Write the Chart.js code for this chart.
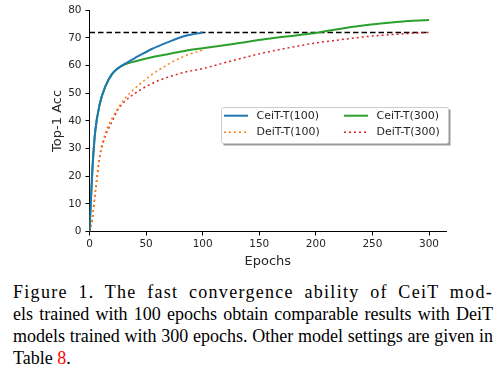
<!DOCTYPE html>
<html>
<head>
<meta charset="utf-8">
<script src="https://cdn.jsdelivr.net/npm/chart.js@4.4.1/dist/chart.umd.min.js"></script>
<style>
  body { margin: 0; background: #fff; }
  #wrap { position: relative; width: 503px; height: 373px; }
  #chart { position: absolute; left: 0; top: 0; }
  #caption {
    position: absolute; left: 13px; top: 281px; width: 480px;
    font-family: "Liberation Serif", serif; font-size: 18px; color: #000;
  }
  #caption div { height: 22px; line-height: 22px; white-space: nowrap; text-align: justify; text-align-last: justify; }
  #caption div.first { letter-spacing: 1.3px; }
  #caption div.last { text-align-last: left; }
  #caption .ref { color: #ff0000; }
</style>
</head>
<body>
<div id="wrap">
  <canvas id="chart" width="503" height="275"></canvas>
  <div id="caption">
    <div class="first">Figure 1. The fast convergence ability of CeiT mod-</div>
    <div>els trained with 100 epochs obtain comparable results with DeiT</div>
    <div>models trained with 300 epochs. Other model settings are given in</div>
    <div class="last">Table <span class="ref">8</span>.</div>
  </div>
</div>
<script>
// values
const epochs100 = [0, 1, 2.5, 5, 9, 14, 20, 25, 31, 40, 55, 70, 85, 100];
const epochs300 = [0, 1, 2.5, 5, 9, 14, 20, 25, 31, 40, 55, 70, 85, 100, 127, 156, 186, 200, 215, 245, 274, 300];

const ceit100 = [0, 9, 22, 36, 46, 52.5, 57, 59, 60.6, 62.7, 66, 68.6, 70.8, 72];
const deit100 = [0, 1.5, 4.5, 14, 27.5, 35.5, 41, 44.5, 48, 51.7, 56.7, 60.6, 63.6, 65.6];
const ceit300 = [0, 9, 22, 36, 46, 52.5, 57, 59, 60.4, 61.5, 63, 64.2, 65.4, 66.3, 67.8, 69.6, 71.1, 71.8, 72.9, 74.7, 75.9, 76.5];
const deit300 = [0, 1.5, 4.5, 13.6, 26.7, 34.5, 39.8, 44, 47, 49.9, 53.5, 55.9, 57.7, 58.9, 61.9, 64.8, 67.2, 68.2, 69, 70.5, 71.4, 72];

const refLine = [72, 72];
const refEpochs = [0, 300];

const xTicks = [0, 50, 100, 150, 200, 250, 300];
const yTicks = [0, 10, 20, 30, 40, 50, 60, 70, 80];

const toPts = (xs, ys) => xs.map((x, i) => ({ x: x, y: ys[i] }));

const dotted = [2, 3];

// legend drawn inside the plot, like the matplotlib one (2 columns)
const boxLegend = {
  id: 'boxLegend',
  afterDraw(chart) {
    const ctx = chart.ctx;
    const x0 = 221, y0 = 107, w = 227, h = 36;
    ctx.save();
    ctx.fillStyle = '#9a9a9a';
    ctx.fillRect(x0 + 2.5, y0 + 2.5, w, h);
    ctx.fillStyle = '#fff';
    ctx.strokeStyle = '#cccccc';
    ctx.lineWidth = 1;
    ctx.beginPath();
    ctx.roundRect(x0 + 0.5, y0 + 0.5, w, h, 2);
    ctx.fill();
    ctx.stroke();

    const items = chart.data.datasets.filter(d => d.label);
    const cols = [224, 344];
    const rows = [115.7, 132.3];
    ctx.font = '11px "DejaVu Sans"';
    ctx.textBaseline = 'middle';
    items.forEach((d, i) => {
      const cx = cols[Math.floor(i / 2)];
      const cy = rows[i % 2];
      ctx.strokeStyle = d.borderColor;
      ctx.lineWidth = d.borderWidth;
      ctx.setLineDash(d.borderDash || []);
      ctx.beginPath();
      ctx.moveTo(cx, cy);
      ctx.lineTo(cx + 24, cy);
      ctx.stroke();
      ctx.setLineDash([]);
      ctx.fillStyle = '#262626';
      ctx.fillText(d.label, cx + 32.5, cy);
    });
    ctx.restore();
  }
};

new Chart(document.getElementById('chart'), {
  type: 'line',
  data: {
    datasets: [
      { label: 'CeiT-T(100)', data: toPts(epochs100, ceit100), borderColor: '#1f77b4', borderWidth: 2, pointRadius: 0, cubicInterpolationMode: 'monotone' },
      { label: 'DeiT-T(100)', data: toPts(epochs100, deit100), borderColor: '#ff7f0e', borderWidth: 1.5, borderDash: dotted, pointRadius: 0, cubicInterpolationMode: 'monotone' },
      { label: 'CeiT-T(300)', data: toPts(epochs300, ceit300), borderColor: '#2ca02c', borderWidth: 2, pointRadius: 0, cubicInterpolationMode: 'monotone' },
      { label: 'DeiT-T(300)', data: toPts(epochs300, deit300), borderColor: '#d62728', borderWidth: 1.5, borderDash: dotted, pointRadius: 0, cubicInterpolationMode: 'monotone' },
      { label: '', data: toPts(refEpochs, refLine), borderColor: '#000', borderWidth: 1.5, borderDash: [5.5, 3], pointRadius: 0 }
    ]
  },
  options: {
    responsive: false,
    animation: false,
    layout: { padding: { top: 7, right: 57, left: 0, bottom: 0 } },
    plugins: { legend: { display: false }, tooltip: { enabled: false } },
    scales: {
      x: {
        type: 'linear', min: 0, max: 315,
        afterBuildTicks: ax => { ax.ticks = xTicks.map(v => ({ value: v })); },
        afterFit: ax => { ax.height = 43.5; },
        grid: { drawOnChartArea: false, drawTicks: true, tickLength: 4, color: '#000' },
        border: { display: true, color: '#000', width: 1 },
        ticks: { color: '#262626', font: { family: 'DejaVu Sans', size: 10.5 }, padding: 2, maxRotation: 0 },
        title: { display: true, text: 'Epochs', color: '#262626', font: { family: 'DejaVu Sans', size: 13 }, padding: { bottom: 6 } }
      },
      y: {
        min: 0, max: 80,
        afterBuildTicks: ax => { ax.ticks = yTicks.map(v => ({ value: v })); },
        afterFit: ax => { ax.width = 89.5; },
        grid: { drawOnChartArea: false, drawTicks: true, tickLength: 4, color: '#000' },
        border: { display: true, color: '#000', width: 1 },
        ticks: { color: '#262626', font: { family: 'DejaVu Sans', size: 10.5 }, padding: 4 },
        title: { display: true, text: 'Top-1 Acc', color: '#262626', font: { family: 'DejaVu Sans', size: 13 }, padding: { top: 49.5 } }
      }
    }
  },
  plugins: [boxLegend]
});
</script>
</body>
</html>
